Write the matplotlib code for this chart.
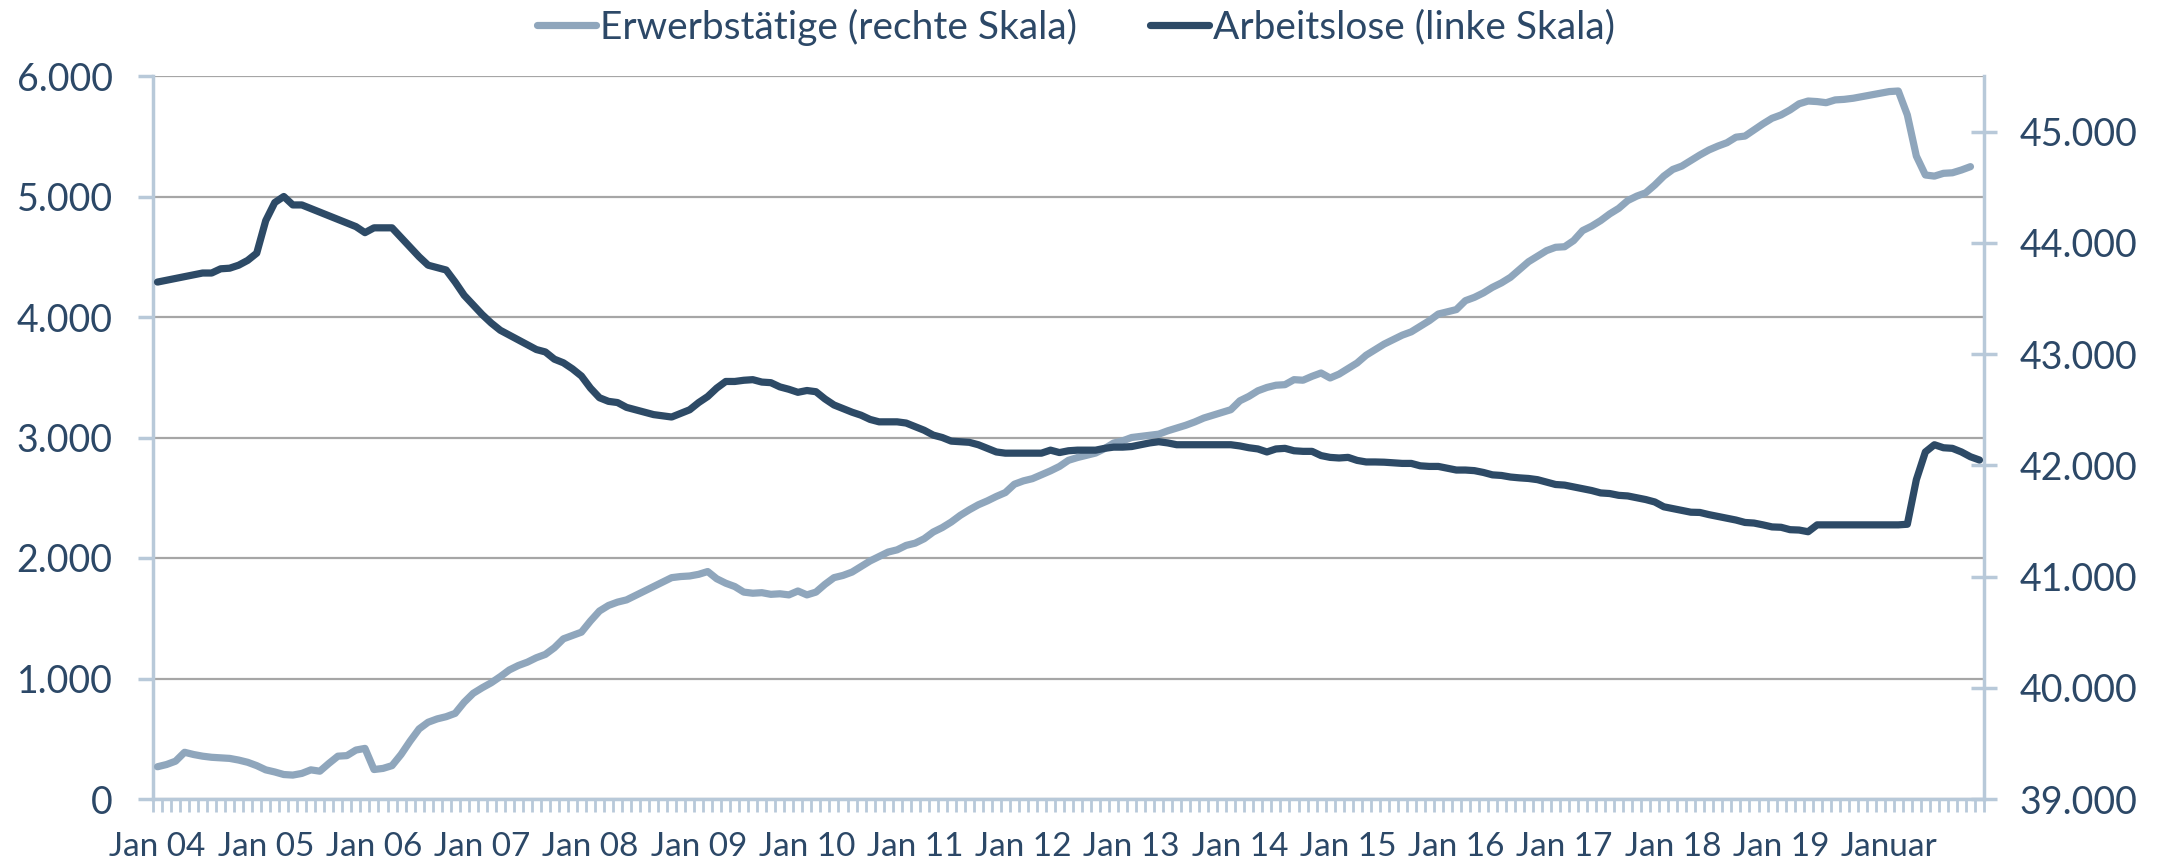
import matplotlib
matplotlib.use("Agg")
import matplotlib.pyplot as plt
import matplotlib.ticker as mticker
import numpy as np

plt.rcParams['font.family'] = ['Lato', 'DejaVu Sans']

# Monatswerte Jan 2004 - Nov 2020 (Tsd.)
arbeitslose = [
    4290, 4305, 4320, 4335, 4350, 4365, 4365, 4400, 4405, 4430, 4470, 4530,   # 2004
    4800, 4950, 5000, 4930, 4930, 4900, 4870, 4840, 4810, 4780, 4750, 4700,   # 2005
    4740, 4740, 4740, 4660, 4580, 4500, 4430, 4410, 4390, 4290, 4180, 4100,   # 2006
    4020, 3950, 3890, 3850, 3810, 3770, 3730, 3710, 3650, 3620, 3570, 3510,   # 2007
    3410, 3330, 3300, 3290, 3250, 3230, 3210, 3190, 3180, 3170, 3200, 3230,   # 2008
    3290, 3340, 3410, 3465, 3465, 3475, 3480, 3460, 3455, 3420, 3400, 3375,   # 2009
    3390, 3380, 3320, 3270, 3240, 3210, 3185, 3150, 3130, 3130, 3130, 3120,   # 2010
    3090, 3060, 3020, 3000, 2970, 2965, 2960, 2940, 2910, 2880, 2870, 2870,   # 2011
    2870, 2870, 2870, 2895, 2875, 2890, 2895, 2895, 2895, 2910, 2920, 2920,   # 2012
    2925, 2940, 2955, 2965, 2955, 2940, 2940, 2940, 2940, 2940, 2940, 2940,   # 2013
    2930, 2915, 2905, 2880, 2905, 2910, 2890, 2885, 2885, 2850, 2835, 2830,   # 2014
    2835, 2810, 2797, 2797, 2795, 2790, 2785, 2785, 2765, 2760, 2760, 2745,   # 2015
    2730, 2730, 2725, 2710, 2690, 2685, 2672, 2665, 2660, 2650, 2630, 2610,   # 2016
    2605, 2590, 2575, 2560, 2540, 2535, 2520, 2515, 2500, 2485, 2465, 2425,   # 2017
    2410, 2395, 2380, 2378, 2360, 2345, 2330, 2315, 2295, 2290, 2275, 2258,   # 2018
    2255, 2235, 2232, 2218, 2275, 2275, 2275, 2275, 2275, 2275, 2275, 2275,   # 2019
    2275, 2275, 2280, 2650, 2880, 2940, 2915, 2910, 2880, 2840, 2813,         # 2020
]

# Monatswerte Jan 2004 - Okt 2020 (Tsd.)
erwerbstaetige = [
    39290, 39310, 39340, 39420, 39400, 39385, 39375, 39370, 39365, 39350, 39330, 39300,   # 2004
    39262, 39243, 39220, 39215, 39230, 39262, 39250, 39320, 39385, 39390, 39440, 39455,   # 2005
    39265, 39275, 39300, 39400, 39520, 39630, 39690, 39720, 39740, 39770, 39870, 39950,   # 2006
    40000, 40045, 40100, 40160, 40200, 40230, 40270, 40300, 40360, 40440, 40470, 40500,   # 2007
    40600, 40690, 40740, 40770, 40790, 40830, 40870, 40910, 40950, 40990, 41000, 41005,   # 2008
    41020, 41045, 40980, 40940, 40910, 40860, 40850, 40855, 40840, 40845, 40835, 40870,   # 2009
    40835, 40860, 40930, 40990, 41010, 41040, 41090, 41140, 41180, 41220, 41240, 41280,   # 2010
    41300, 41340, 41400, 41440, 41490, 41550, 41600, 41645, 41680, 41720, 41755, 41830,   # 2011
    41860, 41880, 41915, 41950, 41990, 42045, 42070, 42090, 42110, 42150, 42200, 42220,   # 2012
    42250, 42260, 42270, 42280, 42310, 42335, 42360, 42390, 42425, 42450, 42475, 42500,   # 2013
    42580, 42620, 42670, 42700, 42720, 42725, 42770, 42765, 42800, 42830, 42785, 42820,   # 2014
    42870, 42920, 42990, 43040, 43090, 43130, 43170, 43200, 43250, 43300, 43360, 43380,   # 2015
    43400, 43480, 43510, 43550, 43600, 43640, 43690, 43760, 43830, 43880, 43930, 43960,   # 2016
    43965, 44020, 44110, 44150, 44200, 44260, 44310, 44380, 44420, 44450, 44520, 44600,   # 2017
    44660, 44690, 44740, 44790, 44835, 44870, 44900, 44950, 44960, 45015, 45070, 45120,   # 2018
    45150, 45195, 45250, 45275, 45270, 45260, 45285, 45290, 45300, 45315, 45330, 45345,   # 2019
    45360, 45365, 45150, 44780, 44610, 44600, 44625, 44630, 44655, 44685,                 # 2020
]

n_months = 203
year_labels = ['Jan %02d' % y for y in range(4, 20)] + ['Januar']

c_dark = '#2D4A66'
c_light = '#8FA6BC'
c_text = '#2C4867'
c_axis = '#B8C9D9'
c_grid = '#A6A6A6'

fig = plt.figure(figsize=(21.73, 8.65), dpi=100)
ax = fig.add_axes([153 / 2173, 1 - 799 / 865, (1984 - 153) / 2173, (799 - 76) / 865])

# linke Skala + Gitter
ax.set_xlim(-0.5, n_months - 0.5)
ax.set_ylim(0, 6000)
ax.yaxis.set_major_locator(mticker.MultipleLocator(1000))
fmt = mticker.FuncFormatter(lambda v, p: f"{v:,.0f}".replace(",", "."))
ax.yaxis.set_major_formatter(fmt)
ax.grid(axis='y', color=c_grid, linewidth=1.6)
ax.set_axisbelow(True)

ax.set_xticks(np.arange(0, n_months, 12))
ax.set_xticklabels(year_labels)
ax.set_xticks(np.arange(-0.5, n_months, 1), minor=True)
ax.tick_params(axis='x', which='major', length=0, pad=24, labelsize=24, labelcolor=c_text)
ax.tick_params(axis='x', which='minor', length=9, width=2, color=c_axis, direction='out')
ax.tick_params(axis='y', length=11, width=2.5, color=c_axis, direction='out',
               pad=18, labelsize=27, labelcolor=c_text)

for s in ['top', 'right']:
    ax.spines[s].set_visible(False)
for s in ['left', 'bottom']:
    ax.spines[s].set_color(c_axis)
    ax.spines[s].set_linewidth(2.5)

# rechte Skala
ax2 = ax.twinx()
ax2.set_ylim(39000, 45500)
ax2.yaxis.set_major_locator(mticker.MultipleLocator(1000))
ax2.yaxis.set_major_formatter(fmt)
ax2.tick_params(axis='y', length=19, width=2.5, color=c_axis, direction='inout',
                pad=16, labelsize=27, labelcolor=c_text)
for s in ['top', 'left', 'bottom']:
    ax2.spines[s].set_visible(False)
ax2.spines['right'].set_color(c_axis)
ax2.spines['right'].set_linewidth(2.5)
l1, = ax2.plot(np.arange(len(erwerbstaetige)), erwerbstaetige, color=c_light, lw=5.2,
               solid_capstyle='round', solid_joinstyle='round',
               label='Erwerbstätige (rechte Skala)')

# Arbeitslose oben drauf
ax3 = ax.twinx()
ax3.set_ylim(ax.get_ylim())
ax3.axis('off')
l2, = ax3.plot(np.arange(len(arbeitslose)), arbeitslose, color=c_dark, lw=5.2,
               solid_capstyle='round', solid_joinstyle='round',
               label='Arbeitslose (linke Skala)')

leg = fig.legend(handles=[l1, l2], loc='center', bbox_to_anchor=(1076 / 2173, 1 - 27 / 865),
                 ncol=2, frameon=False, fontsize=28, handlelength=1.5, handletextpad=0.1,
                 columnspacing=1.9, labelcolor=c_text)

fig.savefig('out.png', dpi=100)
